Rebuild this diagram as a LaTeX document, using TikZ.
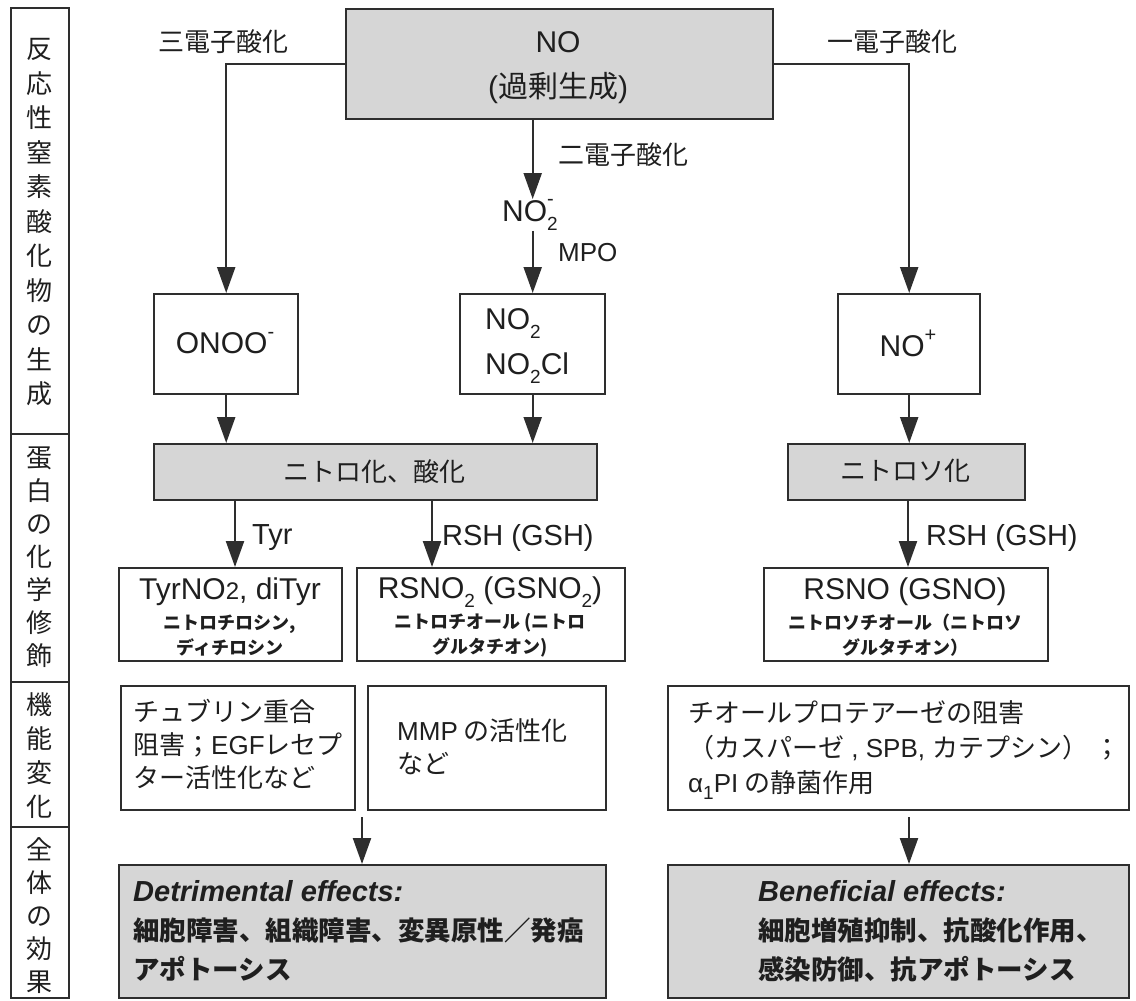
\documentclass[tikz,border=0pt]{standalone}
\usepackage{fontspec}
\setmainfont{Liberation Sans}
\newfontfamily\jp{Noto Sans CJK JP}
\usetikzlibrary{arrows.meta}
\newcommand\jsub[1]{\raisebox{-0.3em}{\fontsize{19}{19}\selectfont #1}}
\newcommand\jsup[1]{\raisebox{0.5em}{\fontsize{20}{20}\selectfont #1}}
\newcommand\jsubsup[2]{\rlap{\raisebox{0.55em}{\fontsize{20}{20}\selectfont #2}}\raisebox{-0.3em}{\fontsize{19}{19}\selectfont #1}}
\newcommand\La[1]{{\rmfamily #1}}
\begin{document}
\begin{tikzpicture}[x=1pt,y=-1pt,
 box/.style={draw=black!82,line width=2.4pt,anchor=north west,inner sep=0pt,fill=white},
 gbox/.style={box,fill=black!16},
 arr/.style={draw=black!82,line width=2.2pt,-{Triangle[width=18pt,length=26pt]}},
 lab/.style={inner sep=0pt,text=black!88},
 jl/.style={lab,font=\jp\fontsize{26}{26}\selectfont},
 la/.style={lab,font=\fontsize{30}{30}\selectfont},
 sm/.style={lab,align=center,font=\jp\bfseries\fontsize{18}{25}\selectfont},
]
\useasboundingbox (0,0) rectangle (1136,1001);
\fill[white] (0,0) rectangle (1136,1001);
% left column
\node[box,minimum width=58pt,minimum height=426pt] (c1) at (10,7) {};
\node[box,minimum width=58pt,minimum height=248pt] (c2) at (10,433) {};
\node[box,minimum width=58pt,minimum height=145pt] (c3) at (10,681) {};
\node[box,minimum width=58pt,minimum height=171pt] (c4) at (10,826) {};
\node[lab,align=center,font=\jp\fontsize{26}{34.5}\selectfont] (c1t) at (39,222.5) {反\\応\\性\\窒\\素\\酸\\化\\物\\の\\生\\成};
\node[lab,align=center,font=\jp\fontsize{26}{33}\selectfont] (c2t) at (39,557) {蛋\\白\\の\\化\\学\\修\\飾};
\node[lab,align=center,font=\jp\fontsize{26}{34}\selectfont] (c3t) at (39,756) {機\\能\\変\\化};
\node[lab,align=center,font=\jp\fontsize{26}{33}\selectfont] (c4t) at (39,916) {全\\体\\の\\効\\果};
% top
\node[gbox,minimum width=427pt,minimum height=110pt] (no) at (345,8) {};
\node[la] (not) at (558,42) {NO};
\node[la] (nosub) at (558,88) {({\jp 過剰生成})};
\node[jl] (e3) at (223,42) {三電子酸化};
\node[jl] (e1) at (892,42) {一電子酸化};
\node[jl,anchor=west] (e2) at (558,155) {二電子酸化};
\node[la] (no2m) at (530,215) {NO\jsubsup{2}{-}};
\node[lab,anchor=west,font=\fontsize{26}{26}\selectfont] (mpo) at (558,253) {MPO};
% row 2
\node[box,minimum width=144pt,minimum height=100pt] (onoo) at (153,293) {};
\node[box,minimum width=145pt,minimum height=100pt] (no2b) at (459,293) {};
\node[box,minimum width=142pt,minimum height=100pt] (nop) at (837,293) {};
\node[la] (onoot) at (225,343) {ONOO\jsup{-}};
\node[lab,align=left,anchor=west,font=\fontsize{30}{45}\selectfont] (no2t) at (485,346) {NO\jsub{2}\\NO\jsub{2}Cl};
\node[la] (nopt) at (908,343) {NO\jsup{+}};
% row 3
\node[gbox,minimum width=443pt,minimum height=56pt] (nitro) at (153,443) {};
\node[gbox,minimum width=237pt,minimum height=56pt] (nitroso) at (787,443) {};
\node[jl] (nitrot) at (374,472) {ニトロ化、酸化};
\node[jl] (nitrosot) at (905,471) {ニトロソ化};
\node[lab,anchor=west,font=\fontsize{29}{29}\selectfont] (tyr) at (252,538) {Tyr};
\node[lab,anchor=west,font=\fontsize{29}{29}\selectfont] (rsh1) at (442,538) {RSH (GSH)};
\node[lab,anchor=west,font=\fontsize{29}{29}\selectfont] (rsh2) at (926,538) {RSH (GSH)};
% row 4
\node[box,minimum width=223pt,minimum height=93pt] (tyrb) at (118,567) {};
\node[box,minimum width=268pt,minimum height=93pt] (rsno2b) at (356,567) {};
\node[box,minimum width=284pt,minimum height=93pt] (rsnob) at (763,567) {};
\node[la] (tyrt) at (230,592) {TyrNO{\fontsize{24}{24}\selectfont 2}, diTyr};
\node[sm] (tyrs) at (230,635.5) {ニトロチロシン,\\ディチロシン};
\node[la] (rsno2t) at (490,592) {RSNO\jsub{2} (GSNO\jsub{2})};
\node[sm] (rsno2s) at (490,635.5) {ニトロチオール (ニトロ\\グルタチオン)};
\node[la] (rsnot) at (905,592) {RSNO (GSNO)};
\node[sm] (rsnos) at (905,635.5) {ニトロソチオール（ニトロソ\\グルタチオン）};
% row 5
\node[box,minimum width=234pt,minimum height=124pt] (f1) at (120,685) {};
\node[box,minimum width=238pt,minimum height=124pt] (f2) at (367,685) {};
\node[box,minimum width=461pt,minimum height=124pt] (f3) at (667,685) {};
\node[lab,align=left,anchor=west,font=\jp\fontsize{26}{33}\selectfont] (f1t) at (133,744) {チュブリン重合\\阻害；\La{EGF}レセプ\\ター活性化など};
\node[lab,align=left,anchor=west,font=\jp\fontsize{26}{33}\selectfont] (f2t) at (397,746.5) {\La{MMP} の活性化\\など};
\node[lab,align=left,anchor=west,font=\jp\fontsize{26}{35}\selectfont] (f3t) at (688,750) {チオールプロテアーゼの阻害\\（カスパーゼ\La{ , SPB, }カテプシン）\ ；\\\La{α\jsub{1}PI} の静菌作用};
% row 6
\node[gbox,minimum width=487pt,minimum height=133pt] (det) at (118,864) {};
\node[gbox,minimum width=461pt,minimum height=133pt] (ben) at (667,864) {};
\node[lab,align=left,anchor=west,font=\jp\bfseries\fontsize{26.5}{39}\selectfont] (dett) at (133,931) {{\rmfamily\itshape\fontsize{29}{39}\selectfont Detrimental effects:}\\細胞障害、組織障害、変異原性／発癌\\アポトーシス};
\node[lab,align=left,anchor=west,font=\jp\bfseries\fontsize{26.5}{39}\selectfont] (bent) at (758,931) {{\rmfamily\itshape\fontsize{29}{39}\selectfont Beneficial effects:}\\細胞増殖抑制、抗酸化作用、\\感染防御、抗アポトーシス};
% connectors
\coordinate (xa) at (235,0);
\coordinate (xb) at (432,0);
\coordinate (xc) at (908,0);
\coordinate (d1) at (362,817);
\coordinate (d2) at (909,817);
\draw[arr] (no.west) -| (onoo.north);
\draw[arr] (no.east) -| (nop.north);
\draw[arr] (no.south -| no2b.north) -- (no2m.north -| no2b.north);
\draw[arr] (no2m.south -| no2b.north) -- (no2b.north);
\draw[arr] (onoo.south) -- (onoo.south |- nitro.north);
\draw[arr] (no2b.south) -- (no2b.south |- nitro.north);
\draw[arr] (nop.south) -- (nop.south |- nitroso.north);
\draw[arr] (nitro.south -| xa) -- (tyrb.north -| xa);
\draw[arr] (nitro.south -| xb) -- (rsno2b.north -| xb);
\draw[arr] (nitroso.south -| xc) -- (rsnob.north -| xc);
\draw[arr] (d1) -- (d1 |- det.north);
\draw[arr] (d2) -- (d2 |- ben.north);
\end{tikzpicture}
\end{document}
